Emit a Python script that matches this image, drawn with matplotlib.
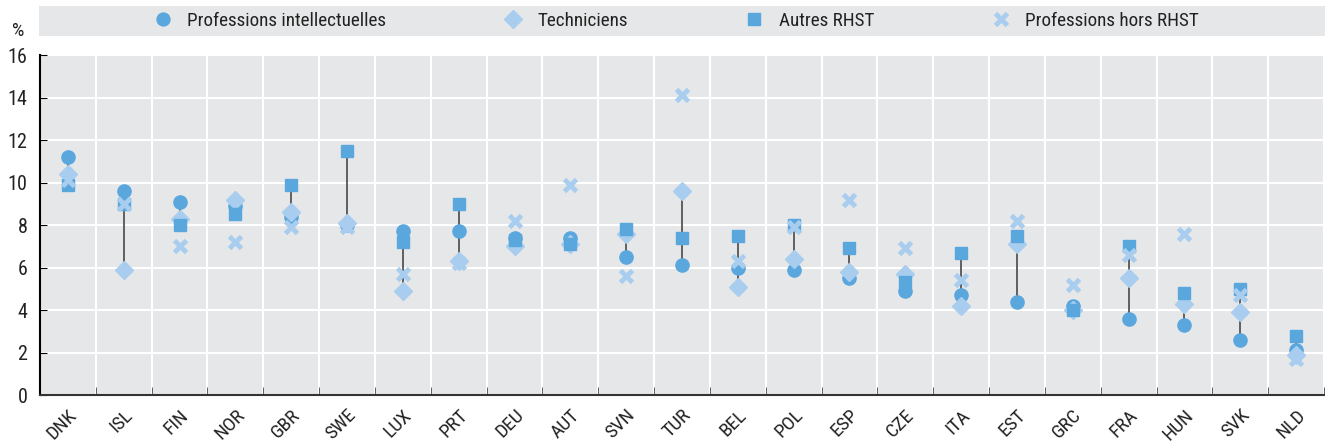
import numpy as np
import matplotlib.pyplot as plt
from matplotlib import font_manager
from matplotlib.lines import Line2D

# pick a narrow font if one is installed
installed = set(f.name for f in font_manager.fontManager.ttflist)
narrow = [n for n in ['Liberation Sans Narrow', 'Roboto Condensed', 'Open Sans Condensed',
                      'DejaVu Sans Condensed', 'Noto Sans Condensed'] if n in installed]
plt.rcParams['font.family'] = narrow[:1] + ['Liberation Sans', 'DejaVu Sans']
if not narrow:
    plt.rcParams['font.stretch'] = 'condensed'

countries = ['DNK', 'ISL', 'FIN', 'NOR', 'GBR', 'SWE', 'LUX', 'PRT', 'DEU', 'AUT', 'SVN', 'TUR',
             'BEL', 'POL', 'ESP', 'CZE', 'ITA', 'EST', 'GRC', 'FRA', 'HUN', 'SVK', 'NLD']

# Professions intellectuelles
intellect = [11.2, 9.6, 9.1, 8.9, 8.4, 8.0, 7.7, 7.7, 7.4, 7.4, 6.5, 6.1,
             6.0, 5.9, 5.5, 4.9, 4.7, 4.4, 4.2, 3.6, 3.3, 2.6, 2.1]
# Techniciens
techniciens = [10.4, 5.9, 8.3, 9.2, 8.6, 8.1, 4.9, 6.3, 7.0, 7.1, 7.6, 9.6,
               5.1, 6.4, 5.8, 5.7, 4.2, 7.1, 4.0, 5.5, 4.3, 3.9, 1.9]
# Autres RHST
autres = [9.9, 9.0, 8.0, 8.5, 9.9, 11.5, 7.2, 9.0, 7.3, 7.1, 7.8, 7.4,
          7.5, 8.0, 6.9, 5.3, 6.7, 7.5, 4.0, 7.0, 4.8, 5.0, 2.8]
# Professions hors RHST
hors = [10.1, 9.0, 7.0, 7.2, 7.9, 7.9, 5.7, 6.2, 8.2, 9.9, 5.6, 14.1,
        6.3, 7.9, 9.2, 6.9, 5.4, 8.2, 5.2, 6.6, 7.6, 4.7, 1.7]

labels = ['Professions intellectuelles', 'Techniciens', 'Autres RHST', 'Professions hors RHST']

dark = '#5aa7de'
light = '#a8cdee'
bg = '#e6e7e9'
txt = '#222222'

x = np.arange(len(countries))
rhst = np.array([intellect, techniciens, autres])
lo = rhst.min(axis=0)
hi = rhst.max(axis=0)

fig = plt.figure(figsize=(13.25, 4.44), dpi=100)
ax = fig.add_axes([40/1325, 1-395/444, 1284/1325, 340/444])
ax.set_facecolor(bg)

ax.vlines(x, lo, hi, color='#555555', linewidth=1.3, zorder=2)
ax.plot(x, intellect, 'o', color=dark, ms=9.5, zorder=3, linestyle='none')
ax.plot(x, techniciens, 'D', color=light, ms=9, zorder=4, linestyle='none')
ax.plot(x, autres, 's', color=dark, ms=9, zorder=5, linestyle='none')
ax.plot(x, hors, 'x', color=light, ms=9, mew=3.5, zorder=6, linestyle='none')

ax.set_xlim(-0.5, len(countries) - 0.5)
ax.set_ylim(0, 16)
ax.set_yticks(np.arange(0, 17, 2))
ax.set_xticks(x)
ax.set_xticklabels(countries, rotation=45, ha='right', rotation_mode='anchor', fontsize=14, color=txt)
ax.set_xticks(np.arange(-0.5, len(countries), 1), minor=True)
ax.tick_params(axis='x', which='major', length=0, pad=8)
ax.tick_params(axis='x', which='minor', direction='in', length=6, color='#444444')
ax.tick_params(axis='y', direction='in', length=5, labelsize=14.5, pad=9, labelcolor=txt)

ax.grid(axis='y', color='white', linewidth=1.5)
ax.grid(axis='x', which='minor', color='white', linewidth=1.5)
ax.set_axisbelow(True)
for s in ['top', 'right']:
    ax.spines[s].set_visible(False)
ax.spines['left'].set_linewidth(1.5)
ax.spines['bottom'].set_linewidth(1.5)
ax.spines['bottom'].set_color('#333333')

fig.text(18/1325, 1-31/444, '%', fontsize=14, ha='center', va='center', color=txt)

# legend band
leg_ax = fig.add_axes([39/1325, 1-36/444, 1286/1325, 30/444])
leg_ax.set_facecolor(bg)
leg_ax.set_xticks([])
leg_ax.set_yticks([])
for s in leg_ax.spines.values():
    s.set_visible(False)
handles = [
    Line2D([], [], marker='o', color=dark, ms=9.3, linestyle='none'),
    Line2D([], [], marker='D', color=light, ms=9, linestyle='none'),
    Line2D([], [], marker='s', color=dark, ms=9, linestyle='none'),
    Line2D([], [], marker='x', color=light, ms=9, mew=3.5, linestyle='none'),
]
leg = leg_ax.legend(handles, labels, loc='center left', bbox_to_anchor=(95/1286, 0.5), ncol=4,
                    frameon=False, fontsize=13.8, columnspacing=6.0, handlelength=1.2,
                    handletextpad=0.68)
for t in leg.get_texts():
    t.set_color(txt)

fig.savefig('out.png', dpi=100)
